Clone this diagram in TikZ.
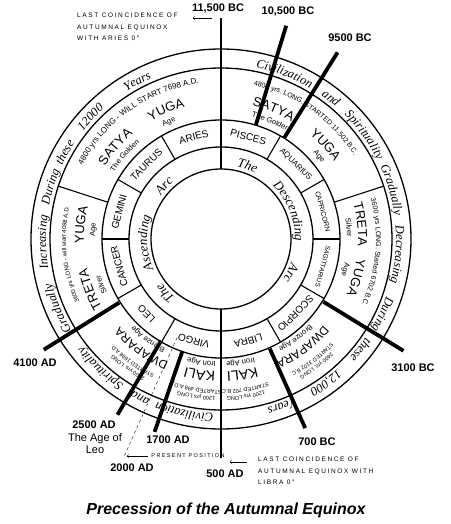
\documentclass[tikz,border=0pt]{standalone}
\usepackage{fontspec}
\setmainfont{Liberation Sans}
\newfontfamily\handfont{Liberation Serif}
\newfontfamily\notefont[LetterSpace=25]{Liberation Sans}
\usetikzlibrary{decorations.text}

\tikzstyle{ring}= [line width=1.3pt]
\tikzstyle{divider}= [line width=1.1pt]
\tikzstyle{axis}= [line width=1.4pt]
\tikzstyle{marker}= [line width=3.8pt]
\tikzstyle{datum}= [font=\bfseries\fontsize{11}{12}\selectfont]
\tikzstyle{sign}= [font=\fontsize{10}{10}\selectfont, inner sep=0pt]
\tikzstyle{note}= [font=\notefont\fontsize{6.5}{11.5}\selectfont, align=left, anchor=north west, inner sep=0pt]

\newcommand{\fbig}{\fontsize{13}{13}\selectfont}
\newcommand{\fdwap}{\fontsize{12}{12}\selectfont}
\newcommand{\fkali}{\fontsize{14}{14}\selectfont}
\newcommand{\fsub}{\fontsize{7.5}{8}\selectfont}
\newcommand{\fdateA}{\fontsize{8}{8}\selectfont}
\newcommand{\fdateB}{\fontsize{7}{7}\selectfont}
\newcommand{\fdateC}{\fontsize{6}{6}\selectfont}
\newcommand{\fdateD}{\fontsize{5.5}{5.5}\selectfont}
\newcommand{\fband}{\handfont\itshape\fontsize{12.5}{12.5}\selectfont}
\newcommand{\farc}{\handfont\itshape\fontsize{13}{13}\selectfont}

% text on a circle: radius, middle angle, font, text
\newcommand{\ringtext}[4]{\path[decorate,decoration={text along path,text align=center,text={|#3|#4}}] (#2+70:#1) arc[start angle=#2+70,end angle=#2-70,radius=#1];}

\begin{document}
\begin{tikzpicture}[x=1pt,y=1pt]
		\useasboundingbox (-221,-285) rectangle (229,239);

		% rings
		\draw[ring] (0,0) circle[radius=190];
		\draw[ring] (0,0) circle[radius=171];
		\draw[ring] (0,0) circle[radius=119];
		\draw[ring] (0,0) circle[radius=92];
		\draw[ring] (0,0) circle[radius=70];

		% zodiac cells
		\draw[divider] (0:92) -- (0:119);
		\draw[divider] (30:92) -- (30:119);
		\draw[divider] (60:92) -- (60:119);
		\draw[divider] (120:92) -- (120:119);
		\draw[divider] (150:92) -- (150:119);
		\draw[divider] (180:92) -- (180:119);
		\draw[divider] (210:92) -- (210:119);
		\draw[divider] (240:92) -- (240:119);
		\draw[divider] (300:92) -- (300:119);
		\draw[divider] (330:92) -- (330:119);
		% yuga cells
		\draw[divider] (18:119) -- (18:171);
		\draw[divider] (162:119) -- (162:171);

		% axis
		\coordinate (axtop) at (0,221);
		\coordinate (axin) at (0,70);
		\coordinate (axlow) at (0,-70);
		\coordinate (axbot) at (0,-219);
		\path[axis] (axtop) edge[] node {} (axin);
		\path[axis] (axlow) edge[] node {} (axbot);

		\node (aries) at (105:105.5) [sign, rotate=15] {ARIES};
		\node (pisces) at (75:105.5) [sign, rotate=-15] {PISCES};
		\node (taurus) at (135:105.5) [sign, rotate=45] {TAURUS};
		\node (aquarius) at (45:105.5) [sign, rotate=-45, font=\fontsize{8}{8}\selectfont] {AQUARIUS};
		\node (gemini) at (165:105.5) [sign, rotate=75] {GEMINI};
		\node (capricorn) at (15:105.5) [sign, rotate=-75, font=\fontsize{7}{7}\selectfont] {CAPRICORN};
		\node (cancer) at (195:105.5) [sign, rotate=105] {CANCER};
		\node (sagittarius) at (-15:105.5) [sign, rotate=-105, font=\fontsize{6.5}{6.5}\selectfont] {SAGITTARIUS};
		\node (leo) at (225:105.5) [sign, rotate=135] {LEO};
		\node (scorpio) at (-45:105.5) [sign, rotate=-135] {SCORPIO};
		\node (virgo) at (255:105.5) [sign, rotate=165] {VIRGO};
		\node (libra) at (-75:105.5) [sign, rotate=-165] {LIBRA};

		% inner band
		\ringtext{74}{224}{\farc}{The}
		\ringtext{74}{183}{\farc}{Ascending}
		\ringtext{74}{137}{\farc}{Arc}
		\ringtext{74}{70}{\farc}{The}
		\ringtext{74}{22}{\farc}{Descending}
		\ringtext{74}{-26}{\farc}{Arc}

		% satya
		\ringtext{157}{125}{\fdateA}{4800 yrs LONG - WILL START 7698 A.D.}
		\ringtext{137}{139}{\fbig}{SATYA}
		\ringtext{137}{113}{\fbig}{YUGA}
		\ringtext{126}{139}{\fsub}{The Golden}
		\ringtext{126}{114}{\fsub}{Age}
		\ringtext{157}{55}{\fdateB}{4800 yrs. LONG. STARTED 11,502 B.C.}
		\ringtext{137}{68}{\fbig}{SATYA}
		\ringtext{137}{42}{\fbig}{YUGA}
		\ringtext{126}{67}{\fsub}{The Golden}
		\ringtext{126}{40}{\fsub}{Age}
		% treta
		\ringtext{155}{186}{\fdateC}{3600 yrs LONG - will start 4098 A.D.}
		\ringtext{137}{201}{\fbig}{TRETA}
		\ringtext{137}{174}{\fbig}{YUGA}
		\ringtext{126}{201}{\fsub}{Silver}
		\ringtext{126}{176}{\fsub}{Age}
		\ringtext{155}{-5}{\fdateB}{3600 yrs LONG. Started 6702 B.C.}
		\ringtext{137}{6}{\fbig}{TRETA}
		\ringtext{137}{-16}{\fbig}{YUGA}
		\ringtext{126}{5}{\fsub}{Silver}
		\ringtext{126}{-14}{\fsub}{Age}
		% dwapara
		\ringtext{158}{234}{\fdateD}{2400 yrs. LONG}
		\ringtext{151}{234}{\fdateD}{STARTED 1698 A.D.}
		\ringtext{134}{234}{\fdwap}{DWAPARA}
		\ringtext{123}{234}{\fsub}{Bronze Age}
		\ringtext{158}{307}{\fdateD}{2400 yrs. LONG}
		\ringtext{151}{307}{\fdateD}{STARTED 3102 B.C.}
		\ringtext{134}{307}{\fdwap}{DWAPARA}
		\ringtext{123}{307}{\fsub}{Bronze Age}
		% kali
		\ringtext{158}{261}{\fdateD}{1200 yrs LONG}
		\ringtext{151}{261}{\fdateD}{STARTED 498 A.D.}
		\ringtext{133}{261}{\fkali}{KALI}
		\ringtext{123}{261}{\fsub}{Iron Age}
		\ringtext{158}{279}{\fdateD}{1200 yrs LONG}
		\ringtext{151}{279}{\fdateD}{STARTED 702 B.C.}
		\ringtext{133}{279}{\fkali}{KALI}
		\ringtext{123}{279}{\fsub}{Iron Age}

		% outer band
		\ringtext{175}{258}{\fband}{Civilization}
		\ringtext{175}{243}{\fband}{and}
		\ringtext{175}{227}{\fband}{Spirituality}
		\ringtext{175}{203}{\fband}{Gradually}
		\ringtext{175}{181}{\fband}{Increasing}
		\ringtext{175}{163}{\fband}{During}
		\ringtext{175}{151}{\fband}{these}
		\ringtext{175}{137}{\fband}{12000}
		\ringtext{175}{118}{\fband}{Years}
		\ringtext{175}{69}{\fband}{Civilization}
		\ringtext{175}{52}{\fband}{and}
		\ringtext{175}{36}{\fband}{Spirituality}
		\ringtext{175}{16}{\fband}{Gradually}
		\ringtext{175}{-5}{\fband}{Decreasing}
		\ringtext{175}{-25}{\fband}{During}
		\ringtext{175}{-38.5}{\fband}{these}
		\ringtext{175}{-54}{\fband}{12,000}
		\ringtext{175}{-70}{\fband}{Years}

		% date markers
		\coordinate (m10500i) at (73:119);
		\coordinate (m10500o) at (73:223);
		\coordinate (m9500i) at (58:119);
		\coordinate (m9500o) at (58:220);
		\coordinate (m3100i) at (-31.5:120);
		\coordinate (m3100o) at (-31.5:214);
		\coordinate (m700i) at (-66:120);
		\coordinate (m700o) at (-66:207);
		\coordinate (m1700i) at (251:119);
		\coordinate (m1700o) at (251:204);
		\coordinate (m2500i) at (239.5:118);
		\coordinate (m2500o) at (239.5:204);
		\coordinate (m4100i) at (212:120);
		\coordinate (m4100o) at (212:209);
		\coordinate (p2000i) at (246:108);
		\coordinate (p2000o) at (246:237);

		\path[marker] (m10500i) edge[] node {} (m10500o);
		\path[marker] (m9500i) edge[] node {} (m9500o);
		\path[marker] (m3100i) edge[] node {} (m3100o);
		\path[marker] (m700i) edge[] node {} (m700o);
		\path[marker] (m1700i) edge[] node {} (m1700o);
		\path[marker] (m2500i) edge[] node {} (m2500o);
		\path[marker] (m4100i) edge[] node {} (m4100o);
		\path[black,thin,dashed] (p2000i) edge[] node {} (p2000o);

		\node (l11500) at (-3,230) [datum] {11,500 BC};
		\node (l10500) at (67,227) [datum] {10,500 BC};
		\node (l9500) at (129,201) [datum] {9500 BC};
		\node (l3100) at (192,-129) [datum] {3100 BC};
		\node (l700) at (96,-203) [datum] {700 BC};
		\node (l500) at (4,-235) [datum] {500 AD};
		\node (l1700) at (-53,-201) [datum] {1700 AD};
		\node (l2000) at (-89,-229) [datum] {2000 AD};
		\node (l2500) at (-127,-186) [datum] {2500 AD};
		\node (ageleo) at (-126,-205) [font=\fontsize{11}{12}\selectfont, align=center] {The Age of\\Leo};
		\node (l4100) at (-186,-124) [datum] {4100 AD};

		% equinox notes
		\node (ariesnote) at (-144,226) [note] {LAST COINCIDENCE OF\\AUTUMNAL EQUINOX\\WITH ARIES 0°};
		\node (libranote) at (37,-218) [note] {LAST COINCIDENCE OF\\AUTUMNAL EQUINOX WITH\\LIBRA 0°};
		\node (present) at (-33,-217) [font=\notefont\fontsize{5.5}{6}\selectfont] {PRESENT POSITION};
		\coordinate (ariesfrom) at (-9,221);
		\coordinate (ariesto) at (-28,221);
		\coordinate (librafrom) at (26,-223);
		\coordinate (librato) at (9,-223);
		\coordinate (presentto) at (-94,-217);
		\path[black,->] (ariesfrom) edge[] node {} (ariesto);
		\path[black,->] (librafrom) edge[] node {} (librato);
		\path[black,->] (present.west) edge[] node {} (presentto);

		\node (title) at (5,-271) [font=\bfseries\itshape\fontsize{16}{16}\selectfont] {Precession of the Autumnal Equinox};
\end{tikzpicture}
\end{document}
